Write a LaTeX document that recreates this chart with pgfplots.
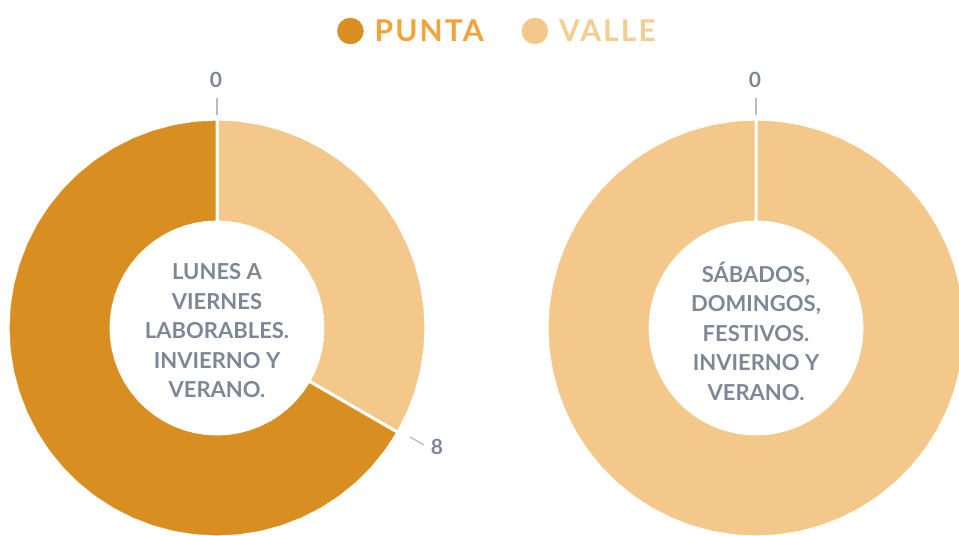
\documentclass[border=0pt]{standalone}
\usepackage{pgfplots}
\pgfplotsset{compat=1.18}
\usepackage{fontspec}
\setmainfont{Lato}

\definecolor{punta}{HTML}{D98E22}
\definecolor{valle}{HTML}{F3C88A}
\definecolor{puntatxt}{HTML}{F2A33A}
\definecolor{valletxt}{HTML}{F6CD90}
\definecolor{txtgray}{HTML}{7C8896}
\definecolor{tickgray}{HTML}{B4BCC4}

\pgfplotsset{
  donut/.style={
    scale only axis, width=959bp, height=536bp,
    at={(0,0)}, anchor=south west,
    hide axis, clip=true,
    ymin=-208, ymax=328,
  },
  seg/.style={fill=#1, draw=white, line width=3bp, data cs=polar},
}

\begin{document}
\begin{tikzpicture}
\useasboundingbox (0,0) rectangle (959bp,536bp);

% left donut: weekdays, valle 0-8 h, punta 8-24 h
\begin{axis}[donut, xmin=-217, xmax=742,
  legend columns=2,
  legend style={at={(axis cs:120,297)}, anchor=west, draw=none, fill=none, inner sep=0pt,
    nodes={inner sep=0pt},
    font=\fontsize{30bp}{32bp}\selectfont\bfseries\addfontfeatures{LetterSpace=7},
    /tikz/every odd column/.append style={column sep=11bp},
    /tikz/every even column/.append style={column sep=38bp}},
]
\addlegendimage{legend image code/.code={\fill[punta] (0bp,0bp) circle (13bp);}}
\addlegendentry{\textcolor{puntatxt}{PUNTA}}
\addlegendimage{legend image code/.code={\fill[valle] (0bp,0bp) circle (13bp);}}
\addlegendentry{\textcolor{valletxt}{VALLE}}

\addplot[seg=valle] coordinates {
(90,209)(84,209)(78,209)(72,209)(66,209)(60,209)(54,209)(48,209)(42,209)(36,209)(30,209)
(24,209)(18,209)(12,209)(6,209)(0,209)(-6,209)(-12,209)(-18,209)(-24,209)(-30,209)
(-30,106)(-24,106)(-18,106)(-12,106)(-6,106)(0,106)(6,106)(12,106)(18,106)(24,106)
(30,106)(36,106)(42,106)(48,106)(54,106)(60,106)(66,106)(72,106)(78,106)(84,106)(90,106)
(90,209)
};
\addplot[seg=punta] coordinates {
(-30,209)(-36,209)(-42,209)(-48,209)(-54,209)(-60,209)(-66,209)(-72,209)(-78,209)(-84,209)
(-90,209)(-96,209)(-102,209)(-108,209)(-114,209)(-120,209)(-126,209)(-132,209)(-138,209)
(-144,209)(-150,209)(-156,209)(-162,209)(-168,209)(-174,209)(-180,209)(-186,209)(-192,209)
(-198,209)(-204,209)(-210,209)(-216,209)(-222,209)(-228,209)(-234,209)(-240,209)(-246,209)
(-252,209)(-258,209)(-264,209)(-270,209)
(-270,106)(-264,106)(-258,106)(-252,106)(-246,106)(-240,106)(-234,106)(-228,106)(-222,106)
(-216,106)(-210,106)(-204,106)(-198,106)(-192,106)(-186,106)(-180,106)(-174,106)(-168,106)
(-162,106)(-156,106)(-150,106)(-144,106)(-138,106)(-132,106)(-126,106)(-120,106)(-114,106)
(-108,106)(-102,106)(-96,106)(-90,106)(-84,106)(-78,106)(-72,106)(-66,106)(-60,106)
(-54,106)(-48,106)(-42,106)(-36,106)(-30,106)
(-30,209)
};
\addplot[tickgray, line width=1.3bp] coordinates {(0,213)(0,230)};
\addplot[tickgray, line width=1.3bp] coordinates {(193,-109)(207,-117)};
\node[txtgray, font=\fontsize{21bp}{24bp}\selectfont\bfseries] at (axis cs:-1,248) {0};
\node[txtgray, font=\fontsize{21bp}{24bp}\selectfont\bfseries] at (axis cs:220,-119) {8};
\node[txtgray, align=center, font=\fontsize{22bp}{29.5bp}\selectfont\bfseries]
  at (axis cs:0,-3) {LUNES A\\VIERNES\\LABORABLES.\\INVIERNO Y\\VERANO.};
\end{axis}

% right donut: weekends and holidays, valle 0-24 h
\begin{axis}[donut, xmin=-756, xmax=203]
\addplot[seg=valle] coordinates {
(90,209)(84,209)(78,209)(72,209)(66,209)(60,209)(54,209)(48,209)(42,209)(36,209)(30,209)
(24,209)(18,209)(12,209)(6,209)(0,209)(-6,209)(-12,209)(-18,209)(-24,209)(-30,209)
(-36,209)(-42,209)(-48,209)(-54,209)(-60,209)(-66,209)(-72,209)(-78,209)(-84,209)
(-90,209)(-96,209)(-102,209)(-108,209)(-114,209)(-120,209)(-126,209)(-132,209)(-138,209)
(-144,209)(-150,209)(-156,209)(-162,209)(-168,209)(-174,209)(-180,209)(-186,209)(-192,209)
(-198,209)(-204,209)(-210,209)(-216,209)(-222,209)(-228,209)(-234,209)(-240,209)(-246,209)
(-252,209)(-258,209)(-264,209)(-270,209)
(-270,106)(-264,106)(-258,106)(-252,106)(-246,106)(-240,106)(-234,106)(-228,106)(-222,106)
(-216,106)(-210,106)(-204,106)(-198,106)(-192,106)(-186,106)(-180,106)(-174,106)(-168,106)
(-162,106)(-156,106)(-150,106)(-144,106)(-138,106)(-132,106)(-126,106)(-120,106)(-114,106)
(-108,106)(-102,106)(-96,106)(-90,106)(-84,106)(-78,106)(-72,106)(-66,106)(-60,106)
(-54,106)(-48,106)(-42,106)(-36,106)(-30,106)(-24,106)(-18,106)(-12,106)(-6,106)(0,106)
(6,106)(12,106)(18,106)(24,106)(30,106)(36,106)(42,106)(48,106)(54,106)(60,106)(66,106)
(72,106)(78,106)(84,106)(90,106)
(90,209)
};
\addplot[tickgray, line width=1.3bp] coordinates {(0,213)(0,230)};
\node[txtgray, font=\fontsize{21bp}{24bp}\selectfont\bfseries] at (axis cs:-1,248) {0};
\node[txtgray, align=center, font=\fontsize{22bp}{29.5bp}\selectfont\bfseries]
  at (axis cs:0,-3) {SÁBADOS,\\DOMINGOS,\\FESTIVOS.\\INVIERNO Y\\VERANO.};
\end{axis}
\end{tikzpicture}
\end{document}
